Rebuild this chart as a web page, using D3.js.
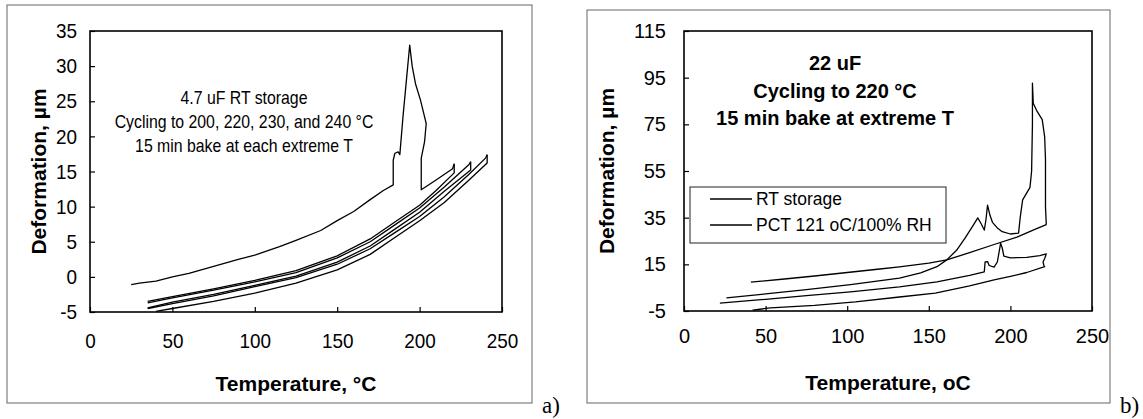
<!DOCTYPE html>
<html>
    <head>
        <meta charset="utf-8">
        <style>
            body { margin: 0; background: #fff; }
            svg { font-family: "Liberation Sans", Arial, sans-serif; }
            .tick line { stroke: #000; stroke-width: 1.2; }
            .curve { fill: none; stroke: #000; stroke-width: 1.3; stroke-linejoin: round; }
            .frame { fill: none; stroke: #666; stroke-width: 1; }
            .plotbox { fill: none; stroke: #000; stroke-width: 1.6; }
            .ttl { font-weight: bold; text-anchor: middle; }
        </style>
        <script src="https://d3js.org/d3.v7.min.js"></script>
    </head>
    <body>
        <svg width="1143" height="419"></svg>
        <script>
            // ---- panel a: 4.7 uF, RT storage (temperature C, deformation um)
            var aXTicks = [0, 50, 100, 150, 200, 250];
            var aYTicks = [-5, 0, 5, 10, 15, 20, 25, 30, 35];
            var aNotes = ["4.7 uF RT storage", "Cycling to 200, 220, 230, and 240 \u00B0C", "15 min bake at each extreme T"];

            var aRun200 = [[25,-1.1],[30,-0.9],[40,-0.6],[50,0.0],[60,0.5],[75,1.5],[90,2.5],[100,3.1],[115,4.3],[125,5.2],[140,6.6],[150,8.0],[160,9.3],[170,11.0],[178,12.3],[184,13.1],[184,16.6],[185,17.6],[187,17.8],[188,17.4],[190,23],[192,28],[194,33],[195.5,30],[197.5,27.5],[200.5,25.2],[203.5,22.3],[204,21.8],[203,19.2],[201,16.9],[201,12.4],[210,13.8],[220,15.4],[221,16.1]];
            var aCool220 = [[221,16.1],[221,14.8],[210,12.3],[200,10.2],[185,7.8],[170,5.4],[150,3.0],[125,0.9],[100,-0.5],[75,-1.7],[50,-2.8],[35,-3.5]];
            var aHeat230 = [[35,-3.7],[50,-3.0],[75,-1.9],[100,-0.7],[125,0.6],[150,2.7],[170,5.0],[185,7.4],[200,9.8],[215,12.8],[230,16.0],[231,16.4]];
            var aCool230 = [[231,16.4],[231,15.2],[215,12.2],[200,9.2],[185,6.8],[170,4.4],[150,2.1],[125,0.1],[100,-1.2],[75,-2.5],[50,-3.6],[35,-4.4]];
            var aHeat240 = [[35,-4.5],[50,-3.8],[75,-2.7],[100,-1.4],[125,-0.1],[150,1.8],[170,4.0],[185,6.3],[200,8.6],[215,11.4],[230,14.6],[240,16.9],[241,17.4]];
            var aCool240 = [[241,17.4],[241,16.2],[230,13.8],[215,10.6],[200,8.0],[185,5.6],[170,3.2],[150,1.0],[125,-0.9],[100,-2.3],[75,-3.5],[50,-4.5],[40,-4.9]];

            // ---- panel b: 22 uF, RT storage vs PCT
            var bXTicks = [0, 50, 100, 150, 200, 250];
            var bYTicks = [-5, 15, 35, 55, 75, 95, 115];
            var bNotes = ["22 uF", "Cycling to 220 \u00B0C", "15 min bake at extreme T"];
            var bLegend = ["RT storage", "PCT 121 oC/100% RH"];

            var bRtHeat = [[41,7.4],[60,8.6],[80,10.0],[100,11.5],[120,13.0],[132,13.9],[150,15.5],[161,16.9],[175,20.0],[190,23.5],[204,26.7],[215,30.0],[222,32.0]];
            var bRtBake = [[222,32.0],[221.5,39.6],[221.5,60],[221,69.6],[219.5,77],[216,81],[214,84],[213.5,92.7],[213.5,75],[213,55],[212,48],[207.5,42.6],[206,35],[205,28.4],[200,28],[195,29],[192,30.6],[189,33],[187.5,36],[186,40.4],[185,34],[184,29.7],[182,32.5],[180,34.9],[177,31.5],[172,26],[167,21],[161,16.9],[155,14.0],[145,11.3],[132,9.1],[102,6.3],[75,4.2],[50,2.3],[26,0.6]];
            var bPct = [[22,-1.6],[50,0.0],[75,1.6],[102,3.2],[132,5.3],[155,7.5],[175,10.3],[184,11.8],[184.5,16.0],[186,16.2],[187,14.5],[190,13.8],[192,16],[194,24.0],[195,22],[196,18.5],[200,17.8],[210,18.0],[218,18.7],[222,19.5],[221,17.5],[220,16.0],[220.5,14.5],[221,14.0],[210,11.5],[200,9.8],[190,8.3],[175,5.8],[154,2.7],[132,1.0],[105,-1.1],[80,-2.6],[53,-3.7],[42,-4.6]];

            var svg = d3.select("svg");

            // squeeze text horizontally (panel a uses a narrow face)
            function narrow(sel, k) {
                sel.each(function() {
                    var w = this.getComputedTextLength();
                    d3.select(this).attr("textLength", w * k).attr("lengthAdjust", "spacingAndGlyphs");
                });
            }

            // plain hyphen for negatives, like the original
            var fmt = function(d) { return String(d); };

            function panel(p) {
                var x = d3.scaleLinear().domain([0, 250]).range(p.xr);
                var y = d3.scaleLinear().domain(p.yd).range(p.yr);

                svg.append("rect").attr("class", "frame")
                   .attr("x", p.frame[0]).attr("y", p.frame[1])
                   .attr("width", p.frame[2] - p.frame[0]).attr("height", p.frame[3] - p.frame[1]);

                var gx = svg.append("g")
                   .attr("transform", "translate(0," + p.yr[0] + ")")
                   .call(d3.axisBottom(x).tickValues(p.xt).tickFormat(fmt).tickSizeInner(-5).tickSizeOuter(0).tickPadding(p.xpad));
                var gy = svg.append("g")
                   .attr("transform", "translate(" + p.xr[0] + ",0)")
                   .call(d3.axisLeft(y).tickValues(p.yt).tickFormat(fmt).tickSizeInner(-5).tickSizeOuter(0).tickPadding(p.ypad));
                [gx, gy].forEach(function(g) {
                    g.select(".domain").remove();
                    g.selectAll("text").attr("fill", "#000")
                     .style("font-family", "'Liberation Sans', Arial, sans-serif")
                     .style("font-size", p.tickFont + "px");
                    if (p.tk < 1) narrow(g.selectAll("text"), p.tk);
                });

                svg.append("rect").attr("class", "plotbox")
                   .attr("x", p.xr[0]).attr("y", p.yr[1])
                   .attr("width", p.xr[1] - p.xr[0]).attr("height", p.yr[0] - p.yr[1]);

                var line = d3.line().x(function(d) { return x(d[0]); }).y(function(d) { return y(d[1]); });
                p.series.forEach(function(s) {
                    svg.append("path").attr("class", "curve").attr("d", line(s));
                });

                var cx = (p.xr[0] + p.xr[1]) / 2;
                svg.append("text").attr("class", "ttl")
                   .attr("x", cx).attr("y", p.xTitleY)
                   .style("font-size", p.titleFont + "px")
                   .text(p.xTitle);
                svg.append("text").attr("class", "ttl")
                   .attr("transform", "translate(" + p.yTitleX + "," + ((p.yr[0] + p.yr[1]) / 2) + ") rotate(-90)")
                   .style("font-size", p.titleFont + "px")
                   .text("Deformation, \u00B5m");

                var notes = svg.append("g").selectAll("text")
                   .data(p.notes).enter().append("text")
                   .attr("x", p.noteX)
                   .attr("y", function(d, i) { return p.noteY + i * p.noteDy; })
                   .attr("text-anchor", "middle")
                   .style("font-size", p.noteFont + "px")
                   .style("font-weight", p.noteWeight)
                   .text(function(d) { return d; });
                if (p.nk < 1) narrow(notes, p.nk);

                svg.append("text")
                   .attr("x", p.frame[2] + 10).attr("y", 413)
                   .style("font-family", "'Liberation Serif', 'Times New Roman', serif")
                   .style("font-size", "23px")
                   .text(p.tag);
            }

            panel({
                xr: [90, 502], yr: [312, 31], yd: [-5, 35],
                xt: aXTicks, yt: aYTicks, xpad: 21, ypad: 13,
                tickFont: 21, tk: 0.9, titleFont: 21,
                frame: [7, 5, 532, 403],
                xTitle: "Temperature, \u00B0C", xTitleY: 391, yTitleX: 46,
                notes: aNotes, noteX: 244, noteY: 104, noteDy: 24, noteFont: 18.5, noteWeight: "normal", nk: 0.855,
                series: [aRun200, aCool220, aHeat230, aCool230, aHeat240, aCool240],
                tag: "a)"
            });

            panel({
                xr: [684, 1092], yr: [311, 31], yd: [-5, 115],
                xt: bXTicks, yt: bYTicks, xpad: 18, ypad: 18,
                tickFont: 20, tk: 1, titleFont: 21,
                frame: [587, 10, 1110, 403],
                xTitle: "Temperature, oC", xTitleY: 390, yTitleX: 614,
                notes: bNotes, noteX: 835, noteY: 70, noteDy: 27.5, noteFont: 20, noteWeight: "bold", nk: 1,
                series: [bRtHeat, bRtBake, bPct],
                tag: "b)"
            });

            // legend of panel b
            var lg = svg.append("g");
            lg.append("rect")
              .attr("x", 690).attr("y", 187).attr("width", 256).attr("height", 56)
              .attr("fill", "#fff").attr("stroke", "#222").attr("stroke-width", 1);
            lg.selectAll("line").data(bLegend).enter().append("line")
              .attr("x1", 710).attr("x2", 752)
              .attr("y1", function(d, i) { return 199 + i * 26; })
              .attr("y2", function(d, i) { return 199 + i * 26; })
              .attr("stroke", "#000").attr("stroke-width", 1.3);
            lg.selectAll("text").data(bLegend).enter().append("text")
              .attr("x", 756)
              .attr("y", function(d, i) { return 205 + i * 26; })
              .style("font-size", "17.5px")
              .text(function(d) { return d; });
        </script>
    </body>
</html>
